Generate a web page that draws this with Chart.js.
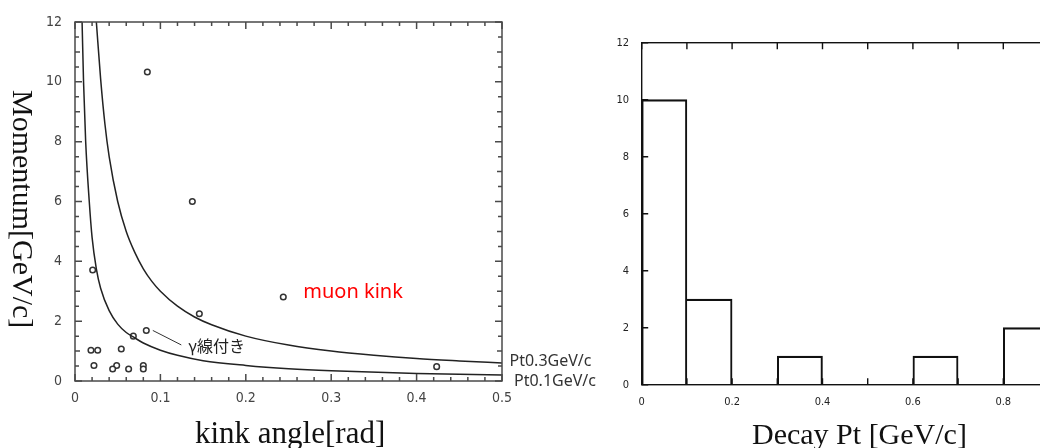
<!DOCTYPE html>
<html>
<head>
<meta charset="utf-8">
<script src="https://cdn.jsdelivr.net/npm/chart.js@4.4.1/dist/chart.umd.min.js"></script>
<style>
  html, body { margin: 0; padding: 0; background: #fff; width: 1040px; height: 448px; overflow: hidden; position: relative; }
  #kinkWrap { position: absolute; left: 0; top: 0; width: 610px; height: 448px; }
  #ptWrap { position: absolute; left: 610px; top: 0; width: 510px; height: 448px; }
  .axis-title { position: absolute; font-family: "Liberation Serif", "Times New Roman", serif; font-size: 30px; line-height: 30px; color: #111; white-space: nowrap; }
  #yTitle { writing-mode: vertical-rl; left: 8px; top: 90px; }
</style>
</head>
<body>
<div id="kinkWrap"><canvas id="kinkChart" width="610" height="448"></canvas></div>
<div id="ptWrap"><canvas id="ptChart" width="510" height="448"></canvas></div>
<div class="axis-title" id="yTitle">Momentum[GeV/c]</div>
<div class="axis-title" style="left:195px; top:418px; font-size:31px;">kink angle[rad]</div>
<div class="axis-title" style="left:752px; top:419px;">Decay Pt [GeV/c]</div>
<script>
// Kink candidates: angle [rad] and momentum [GeV/c]
const kinkAngle = [0.0847, 0.1374, 0.0207, 0.1456, 0.0835, 0.0683, 0.0187, 0.0266, 0.0542,
                   0.0222, 0.0488, 0.0441, 0.0628, 0.0800, 0.0800, 0.2439, 0.4235];
const kinkMomentum = [10.33, 6.00, 3.71, 2.25, 1.69, 1.50, 1.03, 1.03, 1.07,
                      0.52, 0.52, 0.40, 0.40, 0.52, 0.40, 2.81, 0.48];

// Constant-Pt reference curves
const pt03Angle = [0.025, 0.03, 0.035, 0.04, 0.05, 0.06, 0.07, 0.08, 0.09, 0.1, 0.12, 0.14, 0.16, 0.2, 0.25, 0.3, 0.35, 0.4, 0.45, 0.5];
const pt03Momentum = [12.0, 10.1, 8.6, 7.5, 6.0, 5.0, 4.3, 3.75, 3.33, 3.0, 2.5, 2.14, 1.88, 1.5, 1.2, 1.0, 0.86, 0.75, 0.67, 0.6];
const pt01Angle = [0.0083, 0.01, 0.0125, 0.0167, 0.02, 0.025, 0.03, 0.04, 0.05, 0.06, 0.07, 0.08, 0.1, 0.12, 0.15, 0.2, 0.25, 0.3, 0.4, 0.5];
const pt01Momentum = [12.0, 10.0, 8.0, 6.0, 4.8, 3.75, 3.1, 2.35, 1.9, 1.62, 1.44, 1.27, 1.03, 0.86, 0.68, 0.52, 0.41, 0.34, 0.25, 0.2];

const kinkXTicks = [0, 0.1, 0.2, 0.3, 0.4, 0.5];
const kinkYTicks = [0, 2, 4, 6, 8, 10, 12];

// Decay Pt histogram (bin width 0.1 GeV/c)
const ptBinCenter = [0.05, 0.15, 0.25, 0.35, 0.45, 0.55, 0.65, 0.75, 0.85, 0.95];
const ptCounts = [10, 3, 0, 1, 0, 0, 1, 0, 2, 0];
const ptXTicks = [0, 0.2, 0.4, 0.6, 0.8, 1];
const ptYTicks = [0, 2, 4, 6, 8, 10, 12];

const tickFont = { family: '"Liberation Sans Narrow", "DejaVu Sans Condensed", sans-serif', size: 14 };

// Frame with inward tick marks on all four sides
const frameTicks = {
  id: 'frameTicks',
  afterDatasetsDraw(chart, args, o) {
    const { ctx, chartArea: a } = chart;
    const xs = chart.scales.x, ys = chart.scales.y;
    ctx.save();
    ctx.strokeStyle = o.color;
    ctx.lineWidth = o.width;
    ctx.strokeRect(a.left, a.top, a.right - a.left, a.bottom - a.top);
    ctx.beginPath();
    for (let i = 0; i <= o.xCount; i++) {
      const v = xs.min + i * o.xStep;
      const len = (i % o.xMajorEvery === 0) ? o.majorLen : o.minorLen;
      const px = xs.getPixelForValue(v);
      if (o.xSides.includes('top')) { ctx.moveTo(px, a.top); ctx.lineTo(px, a.top + len); }
      if (o.xSides.includes('bottom')) { ctx.moveTo(px, a.bottom); ctx.lineTo(px, a.bottom - len); }
    }
    for (let j = 0; j <= o.yCount; j++) {
      const v = ys.min + j * o.yStep;
      let len = o.minorLen;
      if (j % o.yMajorEvery === 0) len = o.majorLen;
      else if (o.yMidEvery && j % o.yMidEvery === 0) len = o.midLen;
      const py = ys.getPixelForValue(v);
      if (o.ySides.includes('left')) { ctx.moveTo(a.left, py); ctx.lineTo(a.left + len, py); }
      if (o.ySides.includes('right')) { ctx.moveTo(a.right, py); ctx.lineTo(a.right - len, py); }
    }
    ctx.stroke();
    ctx.restore();
  }
};

// Text notes on the kink plot
const kinkNotes = {
  id: 'kinkNotes',
  afterDraw(chart) {
    const { ctx, chartArea: a } = chart;
    const xs = chart.scales.x, ys = chart.scales.y;
    ctx.save();
    // muon kink
    const mx = xs.getPixelForValue(kinkAngle[15]), my = ys.getPixelForValue(kinkMomentum[15]);
    ctx.font = '20px "Noto Sans", sans-serif';
    ctx.fillStyle = '#ff0000';
    ctx.textBaseline = 'alphabetic';
    ctx.fillText('muon kink', mx + 20, my + 1.5);
    // gamma-associated kink with leader line
    const gx = xs.getPixelForValue(kinkAngle[4]), gy = ys.getPixelForValue(kinkMomentum[4]);
    ctx.strokeStyle = '#333';
    ctx.lineWidth = 1;
    ctx.beginPath();
    ctx.moveTo(gx + 6.5, gy);
    ctx.lineTo(gx + 35, gy + 14.5);
    ctx.stroke();
    ctx.font = '16px "Noto Sans CJK JP", sans-serif';
    ctx.fillStyle = '#222';
    ctx.fillText('γ線付き', gx + 42, gy + 21.5);
    // curve labels
    ctx.font = '16px "Noto Sans", sans-serif';
    ctx.fillStyle = '#333';
    const y03 = ys.getPixelForValue(pt03Momentum[pt03Momentum.length - 1]);
    const y01 = ys.getPixelForValue(pt01Momentum[pt01Momentum.length - 1]);
    ctx.fillText('Pt0.3GeV/c', a.right + 7.5, y03 + 2.5);
    ctx.fillText('Pt0.1GeV/c', a.right + 12, y01 + 10.5);
    ctx.restore();
  }
};

const toPoints = (xs, ys) => xs.map((x, i) => ({ x, y: ys[i] }));

new Chart(document.getElementById('kinkChart'), {
  type: 'scatter',
  data: {
    datasets: [
      { label: 'Pt0.3GeV/c', type: 'line', data: toPoints(pt03Angle, pt03Momentum),
        borderColor: '#222', borderWidth: 1.5, pointRadius: 0, fill: false, cubicInterpolationMode: 'monotone' },
      { label: 'Pt0.1GeV/c', type: 'line', data: toPoints(pt01Angle, pt01Momentum),
        borderColor: '#222', borderWidth: 1.5, pointRadius: 0, fill: false, cubicInterpolationMode: 'monotone' },
      { label: 'kink', data: toPoints(kinkAngle, kinkMomentum), showLine: false,
        pointRadius: 2.8, pointBorderWidth: 1.5, pointBorderColor: '#333', pointBackgroundColor: '#fff' }
    ]
  },
  options: {
    responsive: false, animation: false, events: [],
    layout: { padding: { left: 0, top: 22, right: 108, bottom: 0 } },
    plugins: {
      legend: { display: false }, tooltip: { enabled: false },
      frameTicks: { color: '#4a4a4a', width: 1.5, majorLen: 7, midLen: 5, minorLen: 4,
        xStep: 0.02, xCount: 25, xMajorEvery: 5, xSides: ['top', 'bottom'],
        yStep: 0.5, yCount: 24, yMajorEvery: 4, yMidEvery: 2, ySides: ['left', 'right'] }
    },
    scales: {
      x: { type: 'linear', min: 0, max: 0.5,
        grid: { display: false, drawTicks: false }, border: { display: false },
        afterFit(s) { s.height = 67; },
        afterBuildTicks(s) { s.ticks = kinkXTicks.map(v => ({ value: v })); },
        ticks: { padding: 9, color: '#444', font: tickFont, maxRotation: 0, autoSkip: false, callback: v => String(v) } },
      y: { type: 'linear', min: 0, max: 12,
        grid: { display: false, drawTicks: false }, border: { display: false },
        afterFit(s) { s.width = 75; },
        afterBuildTicks(s) { s.ticks = kinkYTicks.map(v => ({ value: v })); },
        ticks: { padding: 13, color: '#444', font: tickFont, autoSkip: false, callback: v => String(v) } }
    }
  },
  plugins: [frameTicks, kinkNotes]
});

const barEdge = 1.4;
new Chart(document.getElementById('ptChart'), {
  type: 'bar',
  data: {
    datasets: [{
      label: 'Decay Pt', data: toPoints(ptBinCenter, ptCounts),
      backgroundColor: 'rgba(255,255,255,0)', borderColor: '#111',
      borderWidth: c => ({ top: barEdge, right: barEdge, bottom: 0,
        left: (c.dataIndex > 0 && ptCounts[c.dataIndex - 1] > 0) ? 0 : barEdge }),
      borderSkipped: false, categoryPercentage: 1, barPercentage: 1, grouped: false
    }]
  },
  options: {
    responsive: false, animation: false, events: [],
    layout: { padding: { left: 0, top: 42.7, right: 26.3, bottom: 0 } },
    plugins: {
      legend: { display: false }, tooltip: { enabled: false },
      frameTicks: { color: '#111', width: 1.4, majorLen: 6.5, midLen: 0, minorLen: 0,
        xStep: 0.1, xCount: 10, xMajorEvery: 1, xSides: ['top', 'bottom'],
        yStep: 2, yCount: 6, yMajorEvery: 1, yMidEvery: 0, ySides: ['left'] }
    },
    scales: {
      x: { type: 'linear', min: 0, max: 1, offset: false,
        grid: { display: false, drawTicks: false }, border: { display: false },
        afterFit(s) { s.height = 63.3; },
        afterBuildTicks(s) { s.ticks = ptXTicks.map(v => ({ value: v })); },
        ticks: { padding: 11, color: '#222', font: { family: tickFont.family, size: 11 }, maxRotation: 0, autoSkip: false, callback: v => String(v) } },
      y: { type: 'linear', min: 0, max: 12,
        grid: { display: false, drawTicks: false }, border: { display: false },
        afterFit(s) { s.width = 31.7; },
        afterBuildTicks(s) { s.ticks = ptYTicks.map(v => ({ value: v })); },
        ticks: { padding: 12.7, color: '#222', font: { family: tickFont.family, size: 11 }, autoSkip: false, callback: v => String(v) } }
    }
  },
  plugins: [frameTicks]
});
</script>
</body>
</html>
